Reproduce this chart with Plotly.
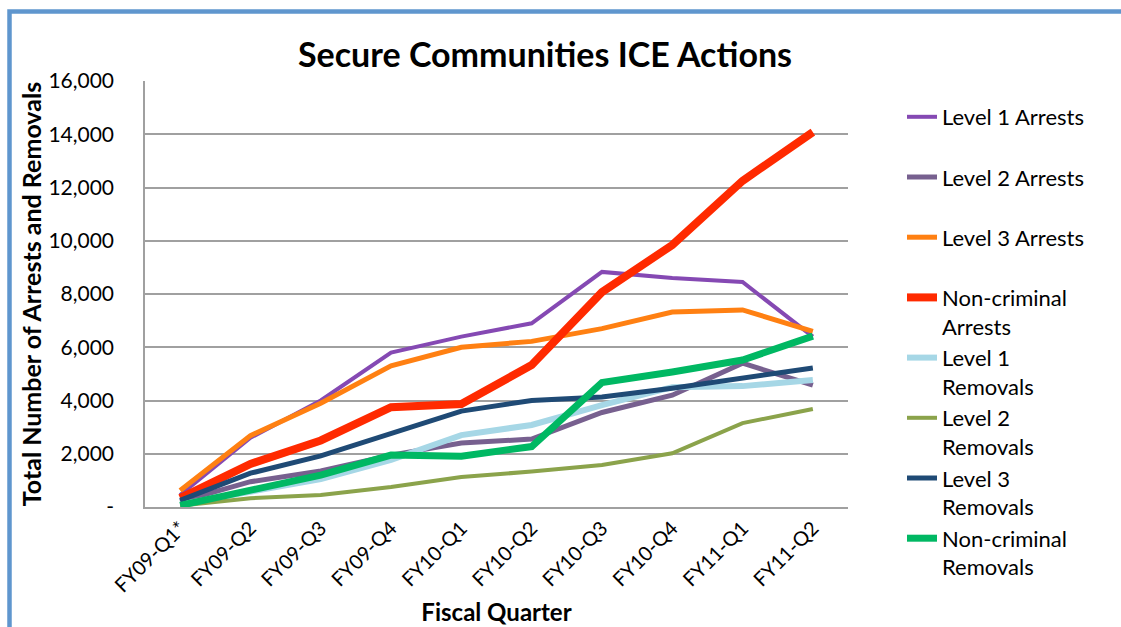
import plotly.graph_objects as go

quarters = ["FY09-Q1*", "FY09-Q2", "FY09-Q3", "FY09-Q4", "FY10-Q1",
            "FY10-Q2", "FY10-Q3", "FY10-Q4", "FY11-Q1", "FY11-Q2"]

level1_arrests = [450, 2600, 4000, 5800, 6400, 6900, 8830, 8600, 8450, 6400]
level2_arrests = [200, 950, 1350, 1950, 2400, 2550, 3550, 4200, 5400, 4580]
level3_arrests = [620, 2680, 3900, 5300, 6000, 6220, 6700, 7320, 7400, 6600]
noncriminal_arrests = [330, 1620, 2500, 3750, 3870, 5330, 8070, 9840, 12250, 14080]
level1_removals = [100, 550, 1050, 1770, 2700, 3080, 3830, 4500, 4540, 4770]
level2_removals = [50, 330, 450, 750, 1130, 1330, 1580, 2020, 3150, 3680]
level3_removals = [250, 1270, 1920, 2740, 3600, 4000, 4130, 4460, 4830, 5220]
noncriminal_removals = [60, 650, 1200, 1950, 1910, 2270, 4670, 5070, 5520, 6420]

series_names = ["Level 1 Arrests", "Level 2 Arrests", "Level 3 Arrests",
                "Non-criminal<br>Arrests", "Level 1<br>Removals", "Level 2<br>Removals",
                "Level 3<br>Removals", "Non-criminal<br>Removals"]
series_values = [level1_arrests, level2_arrests, level3_arrests, noncriminal_arrests,
                 level1_removals, level2_removals, level3_removals, noncriminal_removals]
series_colors = ["#8549B3", "#77608F", "#FF8012", "#FF2A00",
                 "#A6D7E6", "#8BA34B", "#1F4A75", "#00B863"]
series_widths = [4, 5, 5, 8, 6, 4, 5, 7]

ytick_vals = [0, 2000, 4000, 6000, 8000, 10000, 12000, 14000, 16000]
ytick_text = ["-", "2,000", "4,000", "6,000", "8,000", "10,000", "12,000", "14,000", "16,000"]

FONT = "Lato"
W, H = 1121, 627
L, R, T, B = 145, 1121 - 848, 81, 627 - 507
PW, PH = W - L - R, H - T - B

fig = go.Figure()
for i, (name, vals, col, lw) in enumerate(zip(series_names, series_values, series_colors, series_widths)):
    label = name if "<br>" in name else name + "<br> "
    fig.add_trace(go.Scatter(
        x=quarters, y=vals, name=label, mode="lines",
        line=dict(color=col, width=lw), legendgroup=f"g{i}",
    ))

def px_x(x):
    return (x - L) / PW

def px_y(y):
    return (H - B - y) / PH

fig.update_layout(
    width=W, height=H,
    margin=dict(l=L, r=R, t=T, b=B, autoexpand=False),
    paper_bgcolor="white", plot_bgcolor="white",
    font=dict(family=FONT, color="black", size=20),
    title=dict(text="<b>Secure Communities ICE Actions</b>", x=(545) / W, xanchor="center",
               y=1 - 55 / H, yanchor="middle", font=dict(size=34, family=FONT)),
    showlegend=True,
    legend=dict(x=px_x(902), xanchor="left", y=px_y(96), yanchor="top",
                font=dict(size=22, family=FONT), valign="top", maxheight=560,
                tracegroupgap=0, bgcolor="rgba(0,0,0,0)"),
    xaxis=dict(
        type="category", range=[-0.5, 9.5], tickangle=-45, automargin=False,
        tickfont=dict(size=20, family=FONT), showgrid=False,
        showline=True, linecolor="#A0A0A0", linewidth=1.5, ticks="",
        title=dict(text="<b>Fiscal Quarter</b>", font=dict(size=24, family=FONT), standoff=9),
    ),
    yaxis=dict(
        range=[0, 16000], tickvals=ytick_vals, ticktext=ytick_text, automargin=False,
        tickfont=dict(size=21, family=FONT), showgrid=True, gridcolor="#A0A0A0", gridwidth=1.5,
        showline=True, linecolor="#A0A0A0", linewidth=1.5, ticks="", ticklabelstandoff=25,
        zeroline=False,
        title=dict(text="<b>Total Number of Arrests and Removals</b>", font=dict(size=25, family=FONT),
                   standoff=0),
    ),
    shapes=[dict(type="rect", xref="paper", yref="paper",
                 x0=px_x(9.5), x1=px_x(1140), y0=px_y(11.5), y1=px_y(660),
                 line=dict(color="#5F96CE", width=4.5), layer="below")],
)

fig.write_html("out.html", post_script="document.body.style.margin='0';",
               config={"displayModeBar": False})
